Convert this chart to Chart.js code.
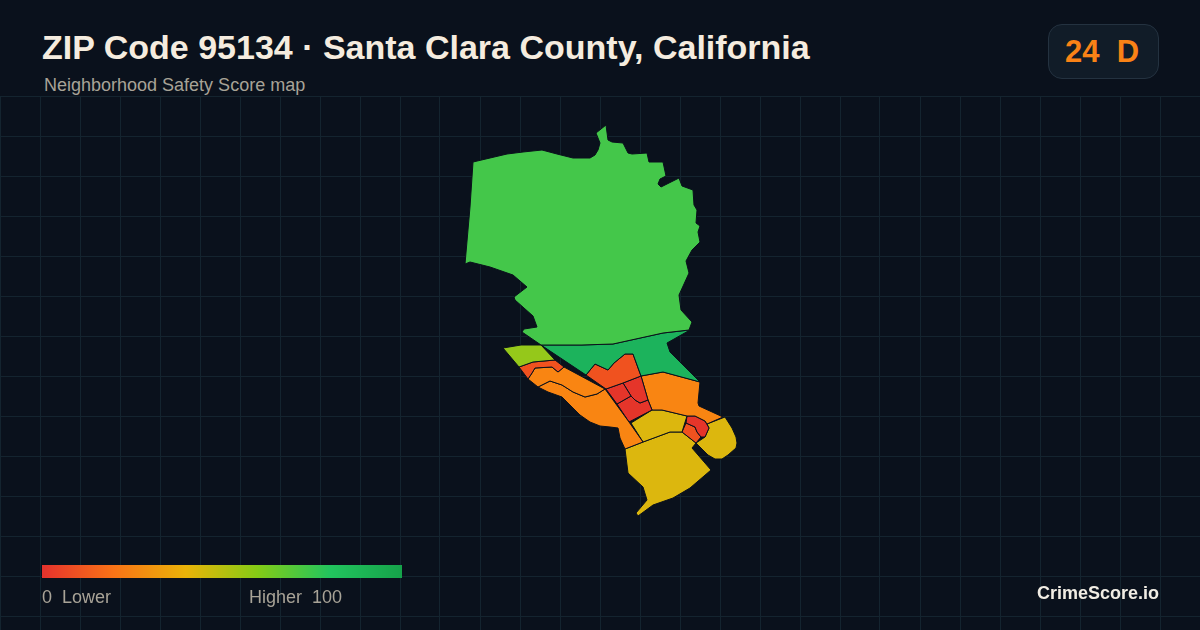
<!DOCTYPE html>
<html>
<head>
<meta charset="utf-8">
<title>ZIP Code 95134</title>
<script src="https://cdn.jsdelivr.net/npm/chart.js@4"></script>
<style>
  html, body { margin: 0; padding: 0; width: 1200px; height: 630px; overflow: hidden; background: #0a111c; font-family: "Liberation Sans", Arial, sans-serif; }
  #mapWrap { position: absolute; left: 0; top: 96px; width: 1200px; height: 534px; }
  .label { position: absolute; white-space: pre; line-height: 1; }
  #title { left: 42px; top: 30px; font-size: 34px; font-weight: bold; color: #f5ecdf; }
  #subtitle { left: 44px; top: 76px; font-size: 18px; color: #a8a397; }
  #badge { position: absolute; left: 1048px; top: 24px; width: 109px; height: 53px; background: #111c28; border: 1px solid #243240; border-radius: 14px; }
  #badgeText { left: 1065px; top: 36px; font-size: 31px; font-weight: bold; color: #f98216; }
  #ramp { position: absolute; left: 42px; top: 565px; width: 360px; height: 13px; background: linear-gradient(to right, #e5322d 0%, #f97316 20%, #eab308 40%, #84cc16 60%, #22c55e 80%, #16a34a 100%); }
  .rampText { top: 588px; font-size: 18px; color: #a8a397; }
  #brand { left: 1037px; top: 584px; font-size: 18px; font-weight: bold; color: #f1ede4; }
</style>
</head>
<body>
<div id="mapWrap"><canvas id="mapChart"></canvas></div>
<div class="label" id="title">ZIP Code 95134 · Santa Clara County, California</div>
<div class="label" id="subtitle">Neighborhood Safety Score map</div>
<div id="badge"></div>
<div class="label" id="badgeText">24  D</div>
<div id="ramp"></div>
<div class="label rampText" style="left:42px">0  Lower</div>
<div class="label rampText" style="left:249px">Higher  100</div>
<div class="label" id="brand">CrimeScore.io</div>

<script>
// tract outlines, in map units
const alviso = [[473,162],[507,154],[523,152],[542,150],[557,154],[573,158],[590,158],[595,155],[598,150],[600,143],[596,133],[606,125],[608,140],[612,142],[623,143],[628,153],[632,154],[647,153],[649,162],[663,162],[666,176],[660,179],[658,184],[661,187],[679,178],[682,186],[693,190],[694,205],[697,210],[696,223],[700,226],[698,232],[700,242],[692,250],[686,261],[689,273],[679,295],[681,310],[692,322],[689,330],[663,333],[613,344],[582,345],[541,345],[522,332],[524,329],[537,327],[533,316],[515,300],[514,297],[527,287],[513,275],[490,267],[470,262],[465,264],[470,207]];
const northEast = [[541,345],[582,345],[613,344],[663,333],[690,330],[667,343],[670,352],[683,365],[700,382],[663,372],[641,376],[633,354],[625,354],[614,363],[608,370],[595,364],[586,375]];
const westTip = [[503,348],[521,345],[541,345],[555,360],[533,362],[519,367]];
const westStrip = [[519,367],[533,362],[555,360],[564,367],[558,372],[552,367],[535,368],[532,373],[528,379]];
const westUpper = [[528,379],[532,373],[535,368],[552,367],[558,372],[564,367],[605,389],[597,394],[585,397],[573,392],[562,385],[550,381],[538,387]];
const westLower = [[538,387],[550,381],[562,385],[573,392],[585,397],[597,394],[605,389],[629,422],[643,442],[625,449],[620,438],[618,428],[610,427],[600,426],[590,422],[580,415],[570,405],[562,397],[548,392]];
const central = [[586,375],[595,364],[608,370],[614,363],[625,354],[633,354],[641,376],[623,383],[606,389]];
const cellA = [[606,389],[623,383],[631,396],[617,404]];
const cellB = [[623,383],[641,376],[648,400],[640,403],[635,400],[631,396]];
const cellC = [[617,404],[631,396],[635,400],[640,403],[648,400],[652,410],[629,422]];
const eastUpper = [[641,376],[663,372],[700,382],[698,403],[699,406],[723,417],[707,424],[705,421],[695,416],[687,416],[662,410],[652,410],[648,400]];
const midYellow = [[652,410],[662,410],[687,416],[682,432],[670,432],[643,442],[631,423]];
const cellD = [[687,416],[695,416],[705,421],[709,428],[705,437],[701,437],[697,432],[695,427],[686,423]];
const cellE = [[686,423],[695,427],[697,432],[701,437],[696,443],[682,432]];
const eastLobe = [[725,417],[732,428],[736,437],[737,443],[736,448],[728,455],[722,459],[715,459],[708,455],[703,450],[696,443],[705,437],[709,428],[707,424]];
const south = [[625,449],[643,442],[670,432],[682,432],[696,443],[692,448],[711,470],[690,488],[673,498],[653,505],[638,516],[636,513],[647,500],[643,487],[628,473]];

const tracts = [alviso, northEast, westTip, westStrip, westUpper, westLower, central, cellA, cellB, cellC, eastUpper, midYellow, cellD, cellE, eastLobe, south];
const tractColors = ["#44c74a", "#1cb35c", "#95c81a", "#f0521f", "#f98512", "#f98512", "#f0521f", "#e5352a", "#e5352a", "#e5352a", "#f98512", "#dcb70e", "#e5352a", "#f0521f", "#dcb70e", "#dcb70e"];

const gridColor = "#14242f";

const ctx = document.getElementById("mapChart").getContext("2d");
new Chart(ctx, {
    type: "scatter",
    data: {
        datasets: tracts.map(function(tract, i) {
            return {
                data: tract.concat([tract[0]]).map(function(p) { return { x: p[0], y: p[1] }; }),
                showLine: true,
                fill: "shape",
                backgroundColor: tractColors[i],
                borderColor: "#0a111c",
                borderWidth: 1,
                borderJoinStyle: "round",
                pointRadius: 0,
                tension: 0
            };
        })
    },
    options: {
        responsive: true,
        maintainAspectRatio: false,
        animation: false,
        layout: { padding: 0 },
        plugins: {
            legend: { display: false },
            tooltip: { enabled: false }
        },
        scales: {
            x: {
                type: "linear",
                min: 0,
                max: 1200,
                ticks: { display: false, stepSize: 40 },
                grid: { color: gridColor, drawTicks: false },
                border: { display: false }
            },
            y: {
                type: "linear",
                reverse: true,
                min: 96,
                max: 630,
                ticks: { display: false, stepSize: 40 },
                grid: { color: gridColor, drawTicks: false },
                border: { display: false },
                afterBuildTicks: function(axis) {
                    // lines every 40 from the top edge
                    const ticks = [];
                    for (let v = 96; v <= 630; v += 40) ticks.push({ value: v });
                    axis.ticks = ticks;
                }
            }
        }
    }
});
</script>
</body>
</html>
